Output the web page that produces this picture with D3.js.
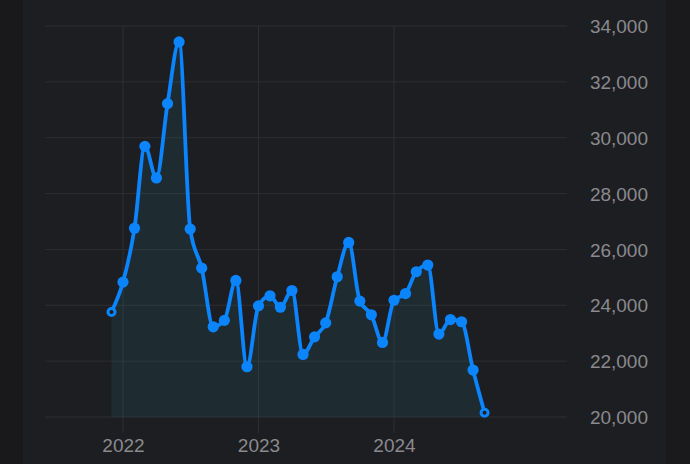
<!DOCTYPE html>
<html>

<head>
  <title>Monthly values</title>
  <style>
    body { margin: 0; background: #1d1e21; }
    svg { display: block; }
  </style>
</head>

<body>
  <svg id="chart"></svg>

  <script src="https://d3js.org/d3.v7.min.js"></script>
  <script>
    // monthly readings, Dec 2021 .. Sep 2024
    let months = [
      "2021-12", "2022-01", "2022-02", "2022-03", "2022-04", "2022-05", "2022-06",
      "2022-07", "2022-08", "2022-09", "2022-10", "2022-11", "2022-12",
      "2023-01", "2023-02", "2023-03", "2023-04", "2023-05", "2023-06",
      "2023-07", "2023-08", "2023-09", "2023-10", "2023-11", "2023-12",
      "2024-01", "2024-02", "2024-03", "2024-04", "2024-05", "2024-06",
      "2024-07", "2024-08", "2024-09"
    ];
    let values = [
      23760, 24830, 26760, 29690, 28560, 31220, 33430,
      26730, 25330, 23230, 23460, 24890, 21800,
      23980, 24340, 23930, 24530, 22240, 22870,
      23370, 25020, 26250, 24150, 23660, 22670,
      24180, 24420, 25200, 25440, 22970, 23490,
      23410, 21680, 20150
    ];
    let yearTicks = ["2022", "2023", "2024"];
    let yTicks = [20000, 22000, 24000, 26000, 28000, 30000, 32000, 34000];

    const width = 690, height = 464;
    const parseMonth = d3.timeParse("%Y-%m");
    const parseYear = d3.timeParse("%Y");
    let data = months.map((m, i) => ({ date: parseMonth(m), value: values[i] }));

    let svg = d3.select("#chart").attr("width", width).attr("height", height);

    // side strips
    svg.append("rect").attr("x", 0).attr("y", 0).attr("width", 23).attr("height", height).attr("fill", "#19191b");
    svg.append("rect").attr("x", 666).attr("y", 0).attr("width", 24).attr("height", height).attr("fill", "#1a1a1d");

    let xScale = d3.scaleTime()
      .domain([parseYear("2022"), parseYear("2024")])
      .range([123, 394]);
    let yScale = d3.scaleLinear()
      .domain([20000, 34000])
      .range([417, 26]);

    let grid = svg.append("g");
    grid.selectAll("line.h")
      .data(yTicks)
      .join("line")
      .attr("class", "h")
      .attr("x1", 45).attr("x2", 567)
      .attr("y1", d => yScale(d)).attr("y2", d => yScale(d))
      .attr("stroke", "#2d2e32").attr("stroke-width", 1);
    grid.selectAll("line.v")
      .data(yearTicks)
      .join("line")
      .attr("class", "v")
      .attr("x1", d => xScale(parseYear(d))).attr("x2", d => xScale(parseYear(d)))
      .attr("y1", yScale(34000)).attr("y2", 433)
      .attr("stroke", "#2d2e32").attr("stroke-width", 1);

    // axes (labels only)
    let yAxis = svg.append("g")
      .attr("transform", "translate(648,0)")
      .call(d3.axisLeft(yScale).tickValues(yTicks).tickFormat(d3.format(",")).tickSize(0).tickPadding(0));
    let xAxis = svg.append("g")
      .attr("transform", "translate(0,433)")
      .call(d3.axisBottom(xScale).tickValues(yearTicks.map(parseYear)).tickFormat(d3.timeFormat("%Y")).tickSize(0).tickPadding(0));

    [xAxis, yAxis].forEach(a => {
      a.select(".domain").remove();
      a.selectAll("text")
        .attr("fill", "#8a8a8f")
        .style("font-family", "'Liberation Sans', Arial, sans-serif")
        .style("font-size", "19px");
    });
    yAxis.selectAll("text").attr("dy", "0.35em");
    xAxis.selectAll("text").attr("dy", "0.71em").attr("y", 6);

    let curve = d3.curveMonotoneX;

    let area = d3.area()
      .x(d => xScale(d.date))
      .y0(yScale(20000))
      .y1(d => yScale(d.value))
      .curve(curve);
    svg.append("path")
      .datum(data)
      .attr("d", area)
      .attr("fill", "rgba(40,150,170,0.12)");

    let line = d3.line()
      .x(d => xScale(d.date))
      .y(d => yScale(d.value))
      .curve(curve);
    svg.append("path")
      .datum(data)
      .attr("d", line)
      .attr("fill", "none")
      .attr("stroke", "#0a84ff")
      .attr("stroke-width", 3.8)
      .attr("stroke-linejoin", "round");

    let last = data.length - 1;
    let isEnd = i => i === 0 || i === last;
    svg.append("g").selectAll("circle")
      .data(data)
      .join("circle")
      .attr("cx", d => xScale(d.date))
      .attr("cy", d => yScale(d.value))
      .attr("r", (d, i) => isEnd(i) ? 3.5 : 5.6)
      .attr("fill", (d, i) => isEnd(i) ? "#1d1e21" : "#0a84ff")
      .attr("stroke", "#0a84ff")
      .attr("stroke-width", (d, i) => isEnd(i) ? 3 : 0);
  </script>
</body>

</html>
